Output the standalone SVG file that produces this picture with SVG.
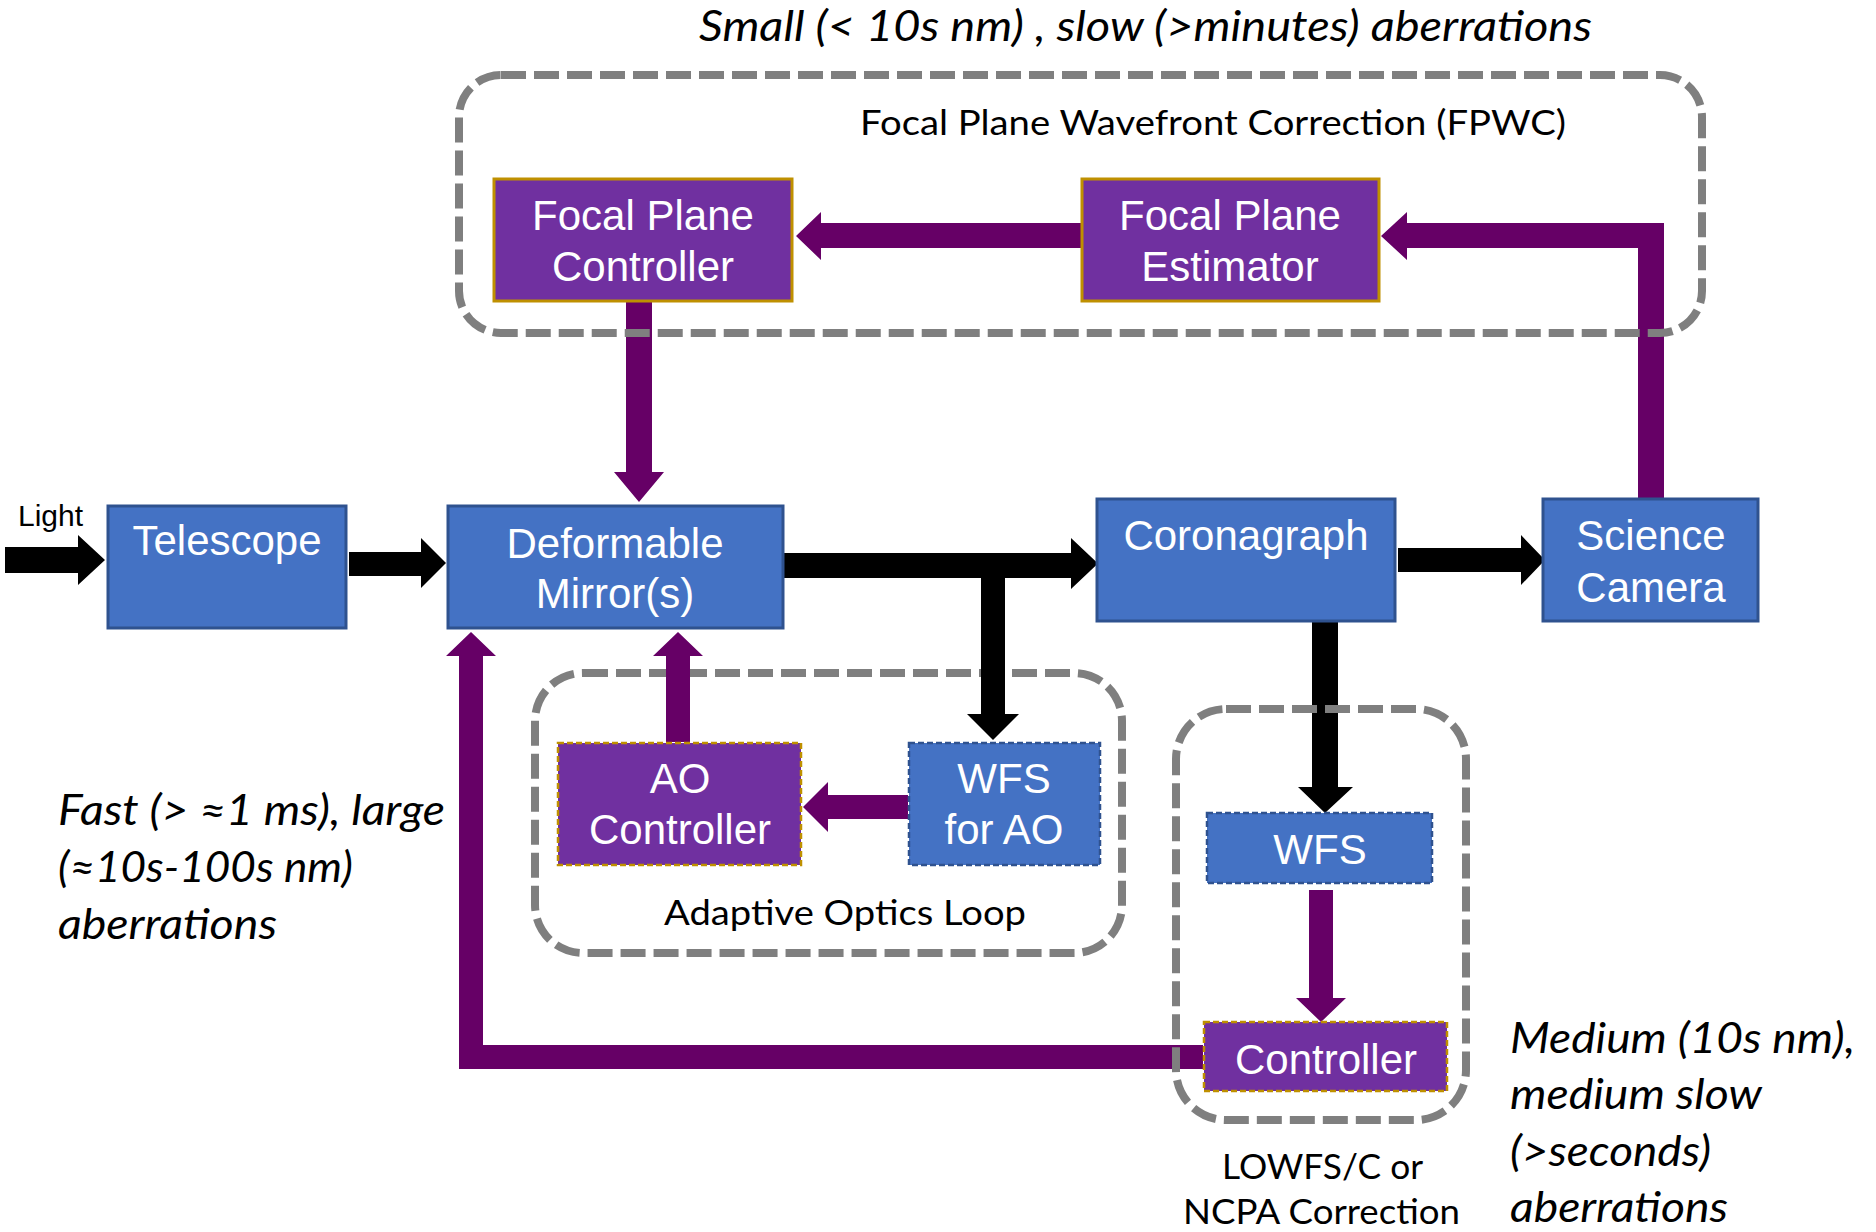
<svg xmlns="http://www.w3.org/2000/svg" width="1876" height="1232" viewBox="0 0 1876 1232">
  <style>
    .blue { fill: #4472C4; stroke: #2F528F; stroke-width: 3; }
    .blue-d { fill: #4472C4; stroke: #2F528F; stroke-width: 2.5; stroke-dasharray: 6 3; }
    .purp { fill: #7030A0; stroke: #BF9000; stroke-width: 3; }
    .purp-d { fill: #7030A0; stroke: #BF9000; stroke-width: 2.5; stroke-dasharray: 6 3; }
    .frame { fill: none; stroke: #7F7F7F; stroke-width: 8; stroke-dasharray: 25 8; }
    .lbl { font-family: "Liberation Sans", Arial, sans-serif; font-size: 42px; fill: #FFFFFF; text-anchor: middle; }
    .cap { font-family: Lato, "Open Sans", sans-serif; font-size: 35px; fill: #000000; }
    .note { font-family: Lato, "Open Sans", sans-serif; font-size: 42px; font-style: italic; fill: #000000; }
    .blk { fill: #000000; }
    .vio { fill: #660066; }
  </style>
  <rect width="1876" height="1232" fill="#FFFFFF"/>

  <!-- loop frame: adaptive optics -->
  <g id="frame-ao">
    <rect class="frame" x="535" y="673" width="587" height="280" rx="48"/>
    <text class="cap" x="664" y="925" textLength="362" lengthAdjust="spacingAndGlyphs">Adaptive Optics Loop</text>
  </g>

  <!-- connectors -->
  <g id="connectors">
    <!-- light path -->
    <path class="blk" d="M5,547 H78 V535 L105,560 L78,585 V573 H5 Z"/>
    <path class="blk" d="M349,552 H421 V538 L446,563 L421,588 V576 H349 Z"/>
    <path class="blk" d="M784,553 H1071 V538 L1098,563.5 L1071,589 V578 H1005 V714 H1019 L993,740 L967,714 H981 V578 H784 Z"/>
    <path class="blk" d="M1398,548 H1521 V535 L1545,560 L1521,585 V572 H1398 Z"/>
    <path class="blk" d="M1312,622 H1338 V787 H1353 L1325,813 L1298,787 H1312 Z"/>
    <!-- control paths -->
    <path class="vio" d="M1081,223 H821 V212 L796,236 L821,260 V248 H1081 Z"/>
    <path class="vio" d="M1638,500 V248 H1407 V260 L1381,236 L1407,212 V223 H1664 V500 Z"/>
    <path class="vio" d="M626,302 V472 H614 L639,502 L664,472 H652 V302 Z"/>
    <path class="vio" d="M666,742 V656 H653 L678,632 L703,656 H690 V742 Z"/>
    <path class="vio" d="M908,795 H828 V782 L803,807 L828,832 V819 H908 Z"/>
    <path class="vio" d="M1309,890 V998 H1296 L1321,1022 L1346,998 H1333 V890 Z"/>
    <path class="vio" d="M1203,1045 H483 V656 H496 L471,632 L446,656 H459 V1069 H1203 Z"/>
  </g>

  <!-- loop frame: focal plane wavefront correction -->
  <g id="frame-fpwc">
    <rect class="frame" x="459" y="75" width="1243" height="258" rx="42"/>
    <text class="cap" x="860" y="135" textLength="706" lengthAdjust="spacingAndGlyphs">Focal Plane Wavefront Correction (FPWC)</text>
  </g>

  <!-- loop frame: low-order wavefront sensing -->
  <g id="frame-lowfs">
    <rect class="frame" x="1176" y="709" width="290" height="411" rx="50"/>
    <text class="cap" x="1222" y="1179" textLength="201" lengthAdjust="spacingAndGlyphs">LOWFS/C or</text>
    <text class="cap" x="1183" y="1224" font-size="34" textLength="277" lengthAdjust="spacingAndGlyphs">NCPA Correction</text>
  </g>

  <!-- nodes -->
  <g id="light">
    <text x="18" y="526" font-family="Liberation Sans, Arial, sans-serif" font-size="30" fill="#000000">Light</text>
  </g>
  <g id="telescope">
    <rect class="blue" x="108" y="506" width="238" height="122"/>
    <text class="lbl" x="227" y="555">Telescope</text>
  </g>
  <g id="deformable-mirror">
    <rect class="blue" x="448" y="506" width="335" height="122"/>
    <text class="lbl" x="615" y="558">Deformable</text>
    <text class="lbl" x="615" y="608">Mirror(s)</text>
  </g>
  <g id="coronagraph">
    <rect class="blue" x="1097" y="499" width="298" height="122"/>
    <text class="lbl" x="1246" y="550">Coronagraph</text>
  </g>
  <g id="science-camera">
    <rect class="blue" x="1543" y="499" width="215" height="122"/>
    <text class="lbl" x="1651" y="550">Science</text>
    <text class="lbl" x="1651" y="602">Camera</text>
  </g>
  <g id="fp-controller">
    <rect class="purp" x="494" y="179" width="298" height="122"/>
    <text class="lbl" x="643" y="230">Focal Plane</text>
    <text class="lbl" x="643" y="281">Controller</text>
  </g>
  <g id="fp-estimator">
    <rect class="purp" x="1082" y="179" width="297" height="122"/>
    <text class="lbl" x="1230" y="230">Focal Plane</text>
    <text class="lbl" x="1230" y="281">Estimator</text>
  </g>
  <g id="ao-controller">
    <rect class="purp-d" x="558" y="743" width="243" height="122"/>
    <text class="lbl" x="680" y="793">AO</text>
    <text class="lbl" x="680" y="844">Controller</text>
  </g>
  <g id="wfs-ao">
    <rect class="blue-d" x="909" y="743" width="191" height="122"/>
    <text class="lbl" x="1004" y="793">WFS</text>
    <text class="lbl" x="1004" y="844">for AO</text>
  </g>
  <g id="wfs-lowfs">
    <rect class="blue-d" x="1207" y="813" width="225" height="70"/>
    <text class="lbl" x="1320" y="864">WFS</text>
  </g>
  <g id="lowfs-controller">
    <rect class="purp-d" x="1204" y="1022" width="243" height="69"/>
    <text class="lbl" x="1326" y="1074">Controller</text>
  </g>

  <!-- annotations -->
  <g id="notes">
    <text class="note" x="699" y="41" font-size="37" textLength="893" lengthAdjust="spacingAndGlyphs">Small (&lt; 10s nm) , slow (&gt;minutes) aberrations</text>
    <text class="note" x="58" y="825" textLength="387" lengthAdjust="spacingAndGlyphs">Fast (&gt; ≈1 ms), large</text>
    <text class="note" x="58" y="882" textLength="295" lengthAdjust="spacingAndGlyphs">(≈10s-100s nm)</text>
    <text class="note" x="58" y="939" textLength="219" lengthAdjust="spacingAndGlyphs">aberrations</text>
    <text class="note" x="1510" y="1053" textLength="345" lengthAdjust="spacingAndGlyphs">Medium (10s nm),</text>
    <text class="note" x="1510" y="1109" textLength="252" lengthAdjust="spacingAndGlyphs">medium slow</text>
    <text class="note" x="1510" y="1166" textLength="201" lengthAdjust="spacingAndGlyphs">(&gt;seconds)</text>
    <text class="note" x="1510" y="1222" textLength="218" lengthAdjust="spacingAndGlyphs">aberrations</text>
  </g>
</svg>
